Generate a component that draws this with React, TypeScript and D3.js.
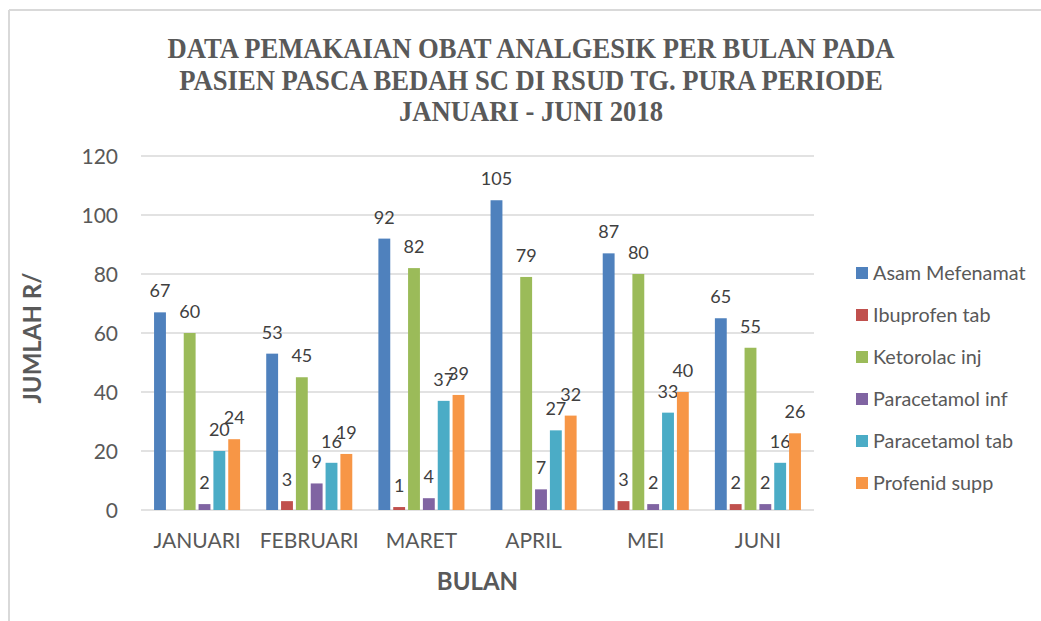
import React from "react";
import * as d3 from "d3";

const categories = ["JANUARI", "FEBRUARI", "MARET", "APRIL", "MEI", "JUNI"];
const seriesNames = [
  "Asam Mefenamat",
  "Ibuprofen tab",
  "Ketorolac inj",
  "Paracetamol inf",
  "Paracetamol tab",
  "Profenid supp",
];
const seriesColors = ["#4F81BD", "#C0504D", "#9BBB59", "#8064A2", "#4BACC6", "#F79646"];

const asamMefenamat = [67, 53, 92, 105, 87, 65];
const ibuprofenTab: (number | null)[] = [null, 3, 1, null, 3, 2];
const ketorolacInj = [60, 45, 82, 79, 80, 55];
const paracetamolInf = [2, 9, 4, 7, 2, 2];
const paracetamolTab = [20, 16, 37, 27, 33, 16];
const profenidSupp = [24, 19, 39, 32, 40, 26];

const seriesValues: (number | null)[][] = [
  asamMefenamat,
  ibuprofenTab,
  ketorolacInj,
  paracetamolInf,
  paracetamolTab,
  profenidSupp,
];

const yTicks = [0, 20, 40, 60, 80, 100, 120];
const titleLines = [
  "DATA PEMAKAIAN OBAT ANALGESIK PER BULAN PADA",
  "PASIEN PASCA BEDAH SC DI RSUD TG. PURA PERIODE",
  "JANUARI - JUNI 2018",
];
const yTitle = "JUMLAH R/";
const xTitle = "BULAN";

const W = 1041;
const H = 621;
const plot = { left: 141, right: 814, top: 156, bottom: 510 };
const textColor = "#595959";
const sans = "Lato, 'Open Sans', sans-serif";

export default function App() {
  const x0 = d3.scaleBand<string>().domain(categories).range([plot.left, plot.right]).padding(0);
  const x1 = d3
    .scaleBand<string>()
    .domain(seriesNames)
    .range([0, x0.bandwidth()])
    .paddingInner(0.2)
    .paddingOuter(0.88);
  const y = d3.scaleLinear().domain([0, 120]).range([plot.bottom, plot.top]);

  return (
    <svg
      width={W}
      height={H}
      style={{ position: "absolute", left: 0, top: 0, background: "#fff" }}
    >
      <rect x={0} y={0} width={W} height={H} fill="#fff" />
      {/* chart border */}
      <line x1={9} y1={10} x2={W} y2={10} stroke="#d9d9d9" strokeWidth={2} />
      <line x1={9} y1={10} x2={9} y2={H} stroke="#d9d9d9" strokeWidth={2} />

      {/* title */}
      {titleLines.map((t, i) => (
        <text
          key={t}
          transform={`translate(531, ${58 + i * 31.5}) scale(0.888, 1)`}
          textAnchor="middle"
          fontFamily="'Liberation Serif', 'Times New Roman', serif"
          fontWeight="bold"
          fontSize={30}
          fill={textColor}
        >
          {t}
        </text>
      ))}

      {/* gridlines */}
      {yTicks.map((t) => (
        <g key={t}>
          <line
            x1={plot.left}
            x2={plot.right}
            y1={y(t)}
            y2={y(t)}
            stroke="#d9d9d9"
            strokeWidth={1.5}
          />
          <text
            x={118}
            y={y(t)}
            dy="0.36em"
            textAnchor="end"
            fontFamily={sans}
            fontSize={21}
            fill={textColor}
          >
            {t}
          </text>
        </g>
      ))}

      {/* bars */}
      {categories.map((c, ci) => (
        <g key={c} transform={`translate(${x0(c)}, 0)`}>
          {seriesNames.map((s, si) => {
            const v = seriesValues[si][ci];
            if (v === null || v === undefined) return null;
            const bx = x1(s)!;
            return (
              <g key={s}>
                <rect
                  x={bx}
                  y={y(v)}
                  width={x1.bandwidth()}
                  height={y(0) - y(v)}
                  fill={seriesColors[si]}
                />
                <text
                  x={bx + x1.bandwidth() / 2}
                  y={y(v) - 15}
                  textAnchor="middle"
                  fontFamily={sans}
                  fontSize={18}
                  fill="#404040"
                >
                  {v}
                </text>
              </g>
            );
          })}
          <text
            x={x0.bandwidth() / 2}
            y={548}
            textAnchor="middle"
            fontFamily={sans}
            fontSize={21}
            fill={textColor}
          >
            {c}
          </text>
        </g>
      ))}

      {/* axis titles */}
      <text
        transform={`translate(41, 338) rotate(-90)`}
        textAnchor="middle"
        fontFamily={sans}
        fontWeight="bold"
        fontSize={24}
        fill={textColor}
      >
        {yTitle}
      </text>
      <text
        x={(plot.left + plot.right) / 2}
        y={590}
        textAnchor="middle"
        fontFamily={sans}
        fontWeight="bold"
        fontSize={24}
        fill={textColor}
      >
        {xTitle}
      </text>

      {/* legend */}
      {seriesNames.map((s, i) => (
        <g key={s} transform={`translate(856, ${273 + i * 42})`}>
          <rect x={0} y={-6} width={12} height={12} fill={seriesColors[i]} />
          <text
            x={17}
            y={0}
            dy="0.36em"
            fontFamily={sans}
            fontSize={19.8}
            fill={textColor}
          >
            {s}
          </text>
        </g>
      ))}
    </svg>
  );
}
